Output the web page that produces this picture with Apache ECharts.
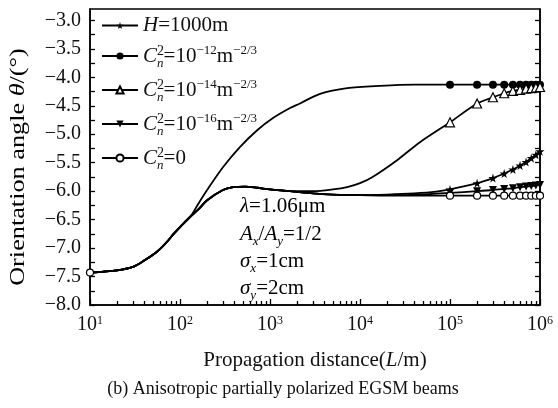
<!DOCTYPE html>
<html>
<head>
<meta charset="utf-8">
<title>Orientation angle</title>
<script src="https://cdn.jsdelivr.net/npm/echarts@6/dist/echarts.min.js"></script>
<style>
html,body{margin:0;padding:0;background:#fff}
#main{width:558px;height:408px}
</style>
</head>
<body>
<div id="main"></div>
<script>
// distance L (m) -> orientation angle (deg)
var startPts = [[10,-7.43],[20,-7.39],[30,-7.33],[40,-7.22],[55,-7.07],[70,-6.91],[85,-6.75],[100,-6.63],[130,-6.45]];
var upperPts = [[160,-6.22],[200,-5.98],[300,-5.58],[460,-5.23],[720,-4.93],[1070,-4.72],[1670,-4.54],[2150,-4.46],[3600,-4.29],[7200,-4.19],[16700,-4.15],[40000,-4.13],
  [1e5,-4.13],[2e5,-4.13],[3e5,-4.13],[4e5,-4.13],[5e5,-4.13],[6e5,-4.13],[7e5,-4.13],[8e5,-4.13],[9e5,-4.13],[1e6,-4.13]];
var lowerPts = [[160,-6.32],[200,-6.16],[300,-5.98],[390,-5.93],[530,-5.92],[720,-5.94],[1000,-5.97],[1670,-6.0]];
var flatPts = [[3000,-6.04],[5000,-6.06],[10000,-6.07]];
var tri14Pts = [[3000,-6.0],[5000,-5.97],[7200,-5.93],[10000,-5.86],[13800,-5.75],[25600,-5.46],[46400,-5.14],
  [1e5,-4.79],[2e5,-4.46],[3e5,-4.35],[4e5,-4.28],[5e5,-4.24],[6e5,-4.22],[7e5,-4.2],[8e5,-4.19],[9e5,-4.18],[1e6,-4.17]];
var tri16Pts = [[30000,-6.07],[60000,-6.05],
  [1e5,-6.03],[2e5,-6.0],[3e5,-5.98],[4e5,-5.96],[5e5,-5.95],[6e5,-5.93],[7e5,-5.92],[8e5,-5.91],[9e5,-5.9],[1e6,-5.89]];
var starPts = [[20000,-6.06],[40000,-6.04],[70000,-6.01],
  [1e5,-5.97],[2e5,-5.86],[3e5,-5.77],[4e5,-5.69],[5e5,-5.62],[6e5,-5.55],[7e5,-5.49],[8e5,-5.42],[9e5,-5.36],[1e6,-5.3]];
var zeroPts = [[30000,-6.08],
  [1e5,-6.08],[2e5,-6.08],[3e5,-6.08],[4e5,-6.08],[5e5,-6.08],[6e5,-6.08],[7e5,-6.08],[8e5,-6.08],[9e5,-6.08],[1e6,-6.08]];
var markL = [1e5,2e5,3e5,4e5,5e5,6e5,7e5,8e5,9e5,1e6];

var xMajor = [10,100,1000,10000,100000,1000000];
var xMinor = [];
for (var d = 10; d < 1e6; d *= 10) for (var k = 2; k <= 9; k++) xMinor.push(k * d);
var yLabels = [-8,-7.5,-7,-6.5,-6,-5.5,-5,-4.5,-4,-3.5,-3];
var yTicks = [];
for (var v = -8; v <= -3; v += 0.25) yTicks.push(+v.toFixed(2));

var names = ['H', 'c12', 'c14', 'c16', 'c0'];
var legendText = {
  H: '{i|H}{t|=1000m}',
  c12: '{i|C}{up0|2}{dn|n}{t|=10}{up|−12}{t|m}{up|−2/3}',
  c14: '{i|C}{up0|2}{dn|n}{t|=10}{up|−14}{t|m}{up|−2/3}',
  c16: '{i|C}{up0|2}{dn|n}{t|=10}{up|−16}{t|m}{up|−2/3}',
  c0: '{i|C}{up0|2}{dn|n}{t|=0}'
};

function build(pts, extra) {
  return pts.map(function (p) {
    var on = markL.indexOf(p[0]) >= 0 || (extra && extra.indexOf(p[0]) >= 0);
    return on ? { value: p } : { value: p, symbol: 'none' };
  });
}

var serif = 'Liberation Serif';
var rich = {
  t: { fontFamily: serif, fontSize: 21, color: '#111', lineHeight: 24 },
  i: { fontFamily: serif, fontSize: 21, fontStyle: 'italic', color: '#111', lineHeight: 24 },
  up: { fontFamily: serif, fontSize: 13, color: '#111', verticalAlign: 'top', lineHeight: 12 },
  up0: { fontFamily: serif, fontSize: 14, color: '#111', verticalAlign: 'top', lineHeight: 12, width: 0.1 },
  dn: { fontFamily: serif, fontSize: 13, fontStyle: 'italic', color: '#111', verticalAlign: 'bottom', lineHeight: 12, padding: [0, 0, -2, 0] }
};

var starPath = 'path://M50,0 L61,35 L98,35 L68,57 L79,91 L50,70 L21,91 L32,57 L2,35 L39,35 Z';
var lineStyle = { color: '#000', width: 1.8 };

var series = [
  { name: 'H', data: build(startPts.concat(lowerPts, flatPts, starPts)), symbol: starPath, symbolSize: 9,
    itemStyle: { color: '#000' } },
  { name: 'c12', data: build(startPts.concat(upperPts)), symbol: 'circle', symbolSize: 8,
    itemStyle: { color: '#000' } },
  { name: 'c14', data: build(startPts.concat(lowerPts, tri14Pts)), symbol: 'triangle', symbolSize: 9,
    itemStyle: { color: '#fff', borderColor: '#000', borderWidth: 1.2 } },
  { name: 'c16', data: build(startPts.concat(lowerPts, flatPts, tri16Pts)), symbol: 'triangle', symbolRotate: 180, symbolSize: 8,
    itemStyle: { color: '#000' } },
  { name: 'c0', data: build(startPts.concat(lowerPts, flatPts, zeroPts), [10]), symbol: 'circle', symbolSize: 7,
    itemStyle: { color: '#fff', borderColor: '#000', borderWidth: 1.2 } }
].map(function (s) {
  s.type = 'line';
  s.smooth = 0.3;
  s.showSymbol = true;
  s.lineStyle = lineStyle;
  s.color = '#000';
  s.z = 3;
  return s;
});

var chart = echarts.init(document.getElementById('main'));
chart.setOption({
  animation: false,
  backgroundColor: '#fff',
  grid: { left: 90, right: 18, top: 9, bottom: 103, show: true, borderColor: '#000', borderWidth: 1.5 },
  legend: {
    data: names,
    orient: 'vertical',
    left: 96,
    top: 10,
    itemWidth: 36,
    itemHeight: 9,
    itemGap: 8,
    formatter: function (n) { return legendText[n]; },
    textStyle: { rich: rich }
  },
  xAxis: [{
    type: 'log', logBase: 10, min: 10, max: 1e6,
    axisLine: { lineStyle: { color: '#000', width: 1.5 } },
    axisTick: { inside: true, length: 6, lineStyle: { color: '#000', width: 1.3 }, customValues: xMajor },
    axisLabel: {
      customValues: xMajor, margin: 10,
      formatter: function (v) { return '{b|10}{s|' + Math.round(Math.log10(v)) + '}'; },
      rich: {
        b: { fontFamily: serif, fontSize: 20, color: '#111', lineHeight: 20 },
        s: { fontFamily: serif, fontSize: 12, color: '#111', verticalAlign: 'top', lineHeight: 12 }
      }
    },
    splitLine: { show: false },
    name: '{t|Propagation distance(}{i|L}{t|/m)}',
    nameLocation: 'middle', nameGap: 43,
    nameTextStyle: { rich: rich }
  }, {
    type: 'log', logBase: 10, min: 10, max: 1e6, position: 'bottom',
    axisLine: { show: false },
    axisTick: { inside: true, length: 4, lineStyle: { color: '#000', width: 1.3 }, customValues: xMinor },
    axisLabel: { show: false },
    splitLine: { show: false }
  }],
  yAxis: [{
    type: 'value', min: -8, max: -2.8,
    axisLine: { lineStyle: { color: '#000', width: 1.5 } },
    axisTick: { inside: true, length: 5, lineStyle: { color: '#000', width: 1.3 }, customValues: yTicks },
    axisLabel: {
      customValues: yLabels, margin: 9,
      fontFamily: serif, fontSize: 20, color: '#111',
      formatter: function (v) { return v.toFixed(1).replace('-', '−'); }
    },
    splitLine: { show: false }
  }, {
    type: 'value', min: -8, max: -2.8, position: 'right',
    axisLine: { lineStyle: { color: '#000', width: 1.5 } },
    axisTick: { inside: true, length: 5, lineStyle: { color: '#000', width: 1.3 }, customValues: yTicks },
    axisLabel: { show: false },
    splitLine: { show: false }
  }],
  graphic: [
    { type: 'text', x: 18, y: 167, rotation: Math.PI / 2, scaleX: 1.25,
      style: { text: '{t|Orientation angle }{i|θ}{t|/(°)}', rich: rich, align: 'center', verticalAlign: 'middle' } },
    { type: 'text', x: 240, y: 206,
      style: { text: '{i|λ}{t|=1.06μm}', rich: rich, verticalAlign: 'middle' } },
    { type: 'text', x: 240, y: 234,
      style: { text: '{i|A}{dn|x}{t|/}{i|A}{dn|y}{t|=1/2}', rich: rich, verticalAlign: 'middle' } },
    { type: 'text', x: 240, y: 261,
      style: { text: '{i|σ}{dn|x}{t|=1cm}', rich: rich, verticalAlign: 'middle' } },
    { type: 'text', x: 240, y: 288,
      style: { text: '{i|σ}{dn|y}{t|=2cm}', rich: rich, verticalAlign: 'middle' } },
    { type: 'text', x: 283, y: 389,
      style: { text: '(b) Anisotropic partially polarized EGSM beams', fontFamily: serif, fontSize: 18, fill: '#111', align: 'center', verticalAlign: 'middle' } }
  ],
  series: series
});
</script>
</body>
</html>
